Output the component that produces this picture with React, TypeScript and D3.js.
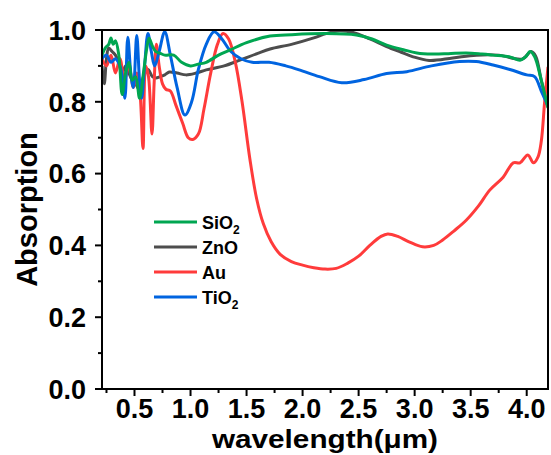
import React from "react";
import * as d3 from "d3";

const auX = [0.21, 0.25, 0.29, 0.33, 0.37, 0.41, 0.45, 0.49, 0.52, 0.55, 0.576, 0.60, 0.625, 0.656, 0.675, 0.695, 0.72, 0.75, 0.78, 0.82, 0.87, 0.93, 0.98, 1.02, 1.07, 1.12, 1.18, 1.24, 1.29, 1.34, 1.40, 1.46, 1.53, 1.59, 1.65, 1.72, 1.80, 1.90, 2.0, 2.1, 2.2, 2.3, 2.4, 2.5, 2.6, 2.7, 2.76, 2.85, 2.95, 3.07, 3.17, 3.25, 3.35, 3.46, 3.57, 3.67, 3.79, 3.88, 3.94, 4.01, 4.06, 4.10, 4.13, 4.16, 4.19];
const auY = [0.92, 0.90, 0.93, 0.88, 0.92, 0.86, 0.90, 0.84, 0.88, 0.82, 0.67, 0.90, 0.87, 0.71, 0.85, 0.96, 0.90, 0.85, 0.835, 0.83, 0.79, 0.74, 0.70, 0.695, 0.71, 0.78, 0.88, 0.96, 0.99, 0.975, 0.91, 0.80, 0.64, 0.53, 0.46, 0.41, 0.375, 0.355, 0.345, 0.338, 0.334, 0.336, 0.35, 0.37, 0.40, 0.425, 0.432, 0.425, 0.41, 0.396, 0.40, 0.415, 0.44, 0.47, 0.51, 0.554, 0.59, 0.63, 0.63, 0.652, 0.63, 0.646, 0.69, 0.80, 0.897];

const tiX = [0.21, 0.25, 0.29, 0.33, 0.37, 0.395, 0.415, 0.44, 0.47, 0.49, 0.52, 0.545, 0.564, 0.59, 0.62, 0.65, 0.68, 0.72, 0.77, 0.82, 0.88, 0.95, 1.01, 1.07, 1.14, 1.21, 1.28, 1.36, 1.45, 1.55, 1.7, 1.85, 1.97, 2.15, 2.35, 2.55, 2.75, 2.93, 3.15, 3.40, 3.55, 3.7, 3.85, 4.0, 4.07, 4.13, 4.19];
const tiY = [0.92, 0.93, 0.91, 0.92, 0.90, 0.86, 0.81, 0.98, 0.87, 0.84, 0.985, 0.86, 0.81, 0.90, 0.99, 0.94, 0.90, 0.94, 0.995, 0.93, 0.84, 0.763, 0.80, 0.89, 0.96, 0.995, 0.975, 0.94, 0.92, 0.91, 0.91, 0.90, 0.889, 0.87, 0.853, 0.862, 0.879, 0.884, 0.90, 0.912, 0.912, 0.9025, 0.89, 0.875, 0.87, 0.83, 0.788];

const siX = [0.21, 0.24, 0.27, 0.29, 0.31, 0.33, 0.36, 0.39, 0.42, 0.45, 0.48, 0.51, 0.545, 0.58, 0.61, 0.63, 0.66, 0.69, 0.73, 0.77, 0.85, 0.92, 1.0, 1.07, 1.14, 1.25, 1.35, 1.5, 1.71, 1.9, 2.21, 2.48, 2.62, 2.75, 2.9, 3.02, 3.16, 3.3, 3.46, 3.6, 3.70, 3.85, 3.94, 3.99, 4.03, 4.07, 4.13, 4.19];
const siY = [0.93, 0.95, 0.96, 0.978, 0.96, 0.97, 0.93, 0.82, 0.88, 0.91, 0.86, 0.87, 0.81, 0.88, 0.95, 0.977, 0.955, 0.94, 0.935, 0.93, 0.93, 0.91, 0.90, 0.905, 0.91, 0.93, 0.944, 0.965, 0.983, 0.987, 0.99, 0.986, 0.975, 0.958, 0.945, 0.936, 0.933, 0.934, 0.936, 0.933, 0.93, 0.925, 0.916, 0.925, 0.94, 0.926, 0.86, 0.783];

const znX = [0.21, 0.23, 0.25, 0.27, 0.30, 0.33, 0.36, 0.39, 0.42, 0.45, 0.48, 0.51, 0.545, 0.58, 0.62, 0.66, 0.69, 0.73, 0.77, 0.81, 0.88, 0.96, 1.05, 1.14, 1.3, 1.44, 1.6, 1.71, 1.9, 2.1, 2.21, 2.33, 2.45, 2.6, 2.75, 2.88, 2.98, 3.13, 3.34, 3.55, 3.75, 3.96, 4.04, 4.08, 4.13, 4.19];
const znY = [0.90, 0.85, 0.92, 0.95, 0.94, 0.93, 0.91, 0.88, 0.90, 0.88, 0.86, 0.85, 0.833, 0.87, 0.89, 0.87, 0.866, 0.87, 0.875, 0.883, 0.88, 0.875, 0.88, 0.889, 0.90, 0.916, 0.935, 0.947, 0.96, 0.978, 0.99, 0.998, 0.993, 0.975, 0.954, 0.938, 0.926, 0.915, 0.922, 0.93, 0.93, 0.919, 0.94, 0.927, 0.86, 0.785];

const xMajor = [0.5, 1.0, 1.5, 2.0, 2.5, 3.0, 3.5, 4.0];
const xMinor = [0.25, 0.75, 1.25, 1.75, 2.25, 2.75, 3.25, 3.75];
const yMajor = [0.0, 0.2, 0.4, 0.6, 0.8, 1.0];
const yMinor = [0.1, 0.3, 0.5, 0.7, 0.9];

const seriesNames = ["SiO2", "ZnO", "Au", "TiO2"];
const seriesColors = ["#00a651", "#4d4d4d", "#ff3b3b", "#0064e0"];

const FONT = "'Liberation Sans', Arial, sans-serif";

export default function App() {
  const left = 102, right = 548, top = 30, bottom = 389;
  const x = d3.scaleLinear().domain([0.21, 4.19]).range([left, right]);
  const y = d3.scaleLinear().domain([0, 1]).range([bottom, top]);
  const line = d3
    .line<[number, number]>()
    .x((d) => x(d[0]))
    .y((d) => y(d[1]))
    .curve(d3.curveCatmullRom.alpha(0.5));
  const zip = (a: number[], b: number[]) => a.map((v, i) => [v, b[i]] as [number, number]);

  const drawOrder = [
    { xs: znX, ys: znY, c: seriesColors[1] },
    { xs: auX, ys: auY, c: seriesColors[2] },
    { xs: tiX, ys: tiY, c: seriesColors[3] },
    { xs: siX, ys: siY, c: seriesColors[0] },
  ];

  return (
    <svg width={551} height={455} style={{ position: "absolute", left: 0, top: 0, background: "#fff" }}>
      <defs>
        <clipPath id="plotClip">
          <rect x={left} y={top - 2} width={right - left} height={bottom - top + 2} />
        </clipPath>
      </defs>
      <g clipPath="url(#plotClip)">
        {drawOrder.map((s, i) => (
          <path key={i} d={line(zip(s.xs, s.ys)) || ""} fill="none" stroke={s.c} strokeWidth={3} strokeLinejoin="round" />
        ))}
      </g>
      <rect x={left} y={top} width={right - left} height={bottom - top} fill="none" stroke="#000" strokeWidth={2} />
      {xMajor.map((t) => (
        <g key={"xm" + t}>
          <line x1={x(t)} x2={x(t)} y1={bottom} y2={bottom + 7} stroke="#000" strokeWidth={2} />
          <text x={x(t)} y={418} textAnchor="middle" fontFamily={FONT} fontWeight="bold" fontSize={27}>
            {t.toFixed(1)}
          </text>
        </g>
      ))}
      {xMinor.map((t) => (
        <line key={"xn" + t} x1={x(t)} x2={x(t)} y1={bottom} y2={bottom + 4} stroke="#000" strokeWidth={2} />
      ))}
      {yMajor.map((t) => (
        <g key={"ym" + t}>
          <line x1={left - 7} x2={left} y1={y(t)} y2={y(t)} stroke="#000" strokeWidth={2} />
          <text x={86} y={y(t)} dy="0.36em" textAnchor="end" fontFamily={FONT} fontWeight="bold" fontSize={27}>
            {t.toFixed(1)}
          </text>
        </g>
      ))}
      {yMinor.map((t) => (
        <line key={"yn" + t} x1={left - 4} x2={left} y1={y(t)} y2={y(t)} stroke="#000" strokeWidth={2} />
      ))}
      <text
        x={(left + right) / 2}
        y={448}
        textAnchor="middle"
        fontFamily={FONT}
        fontWeight="bold"
        fontSize={26}
        textLength={226}
        lengthAdjust="spacingAndGlyphs"
      >
        wavelength(μm)
      </text>
      <text
        transform={`translate(37, ${(top + bottom) / 2}) rotate(-90)`}
        textAnchor="middle"
        fontFamily={FONT}
        fontWeight="bold"
        fontSize={29}
      >
        Absorption
      </text>
      {seriesNames.map((n, i) => {
        const ly = 222 + i * 25;
        const sub = n.endsWith("2");
        return (
          <g key={n}>
            <line x1={154} x2={197} y1={ly} y2={ly} stroke={seriesColors[i]} strokeWidth={3} />
            <text x={202} y={ly + 6.5} fontFamily={FONT} fontWeight="bold" fontSize={18}>
              {sub ? n.slice(0, -1) : n}
              {sub && (
                <tspan fontSize={12} dy={5}>
                  2
                </tspan>
              )}
            </text>
          </g>
        );
      })}
    </svg>
  );
}
